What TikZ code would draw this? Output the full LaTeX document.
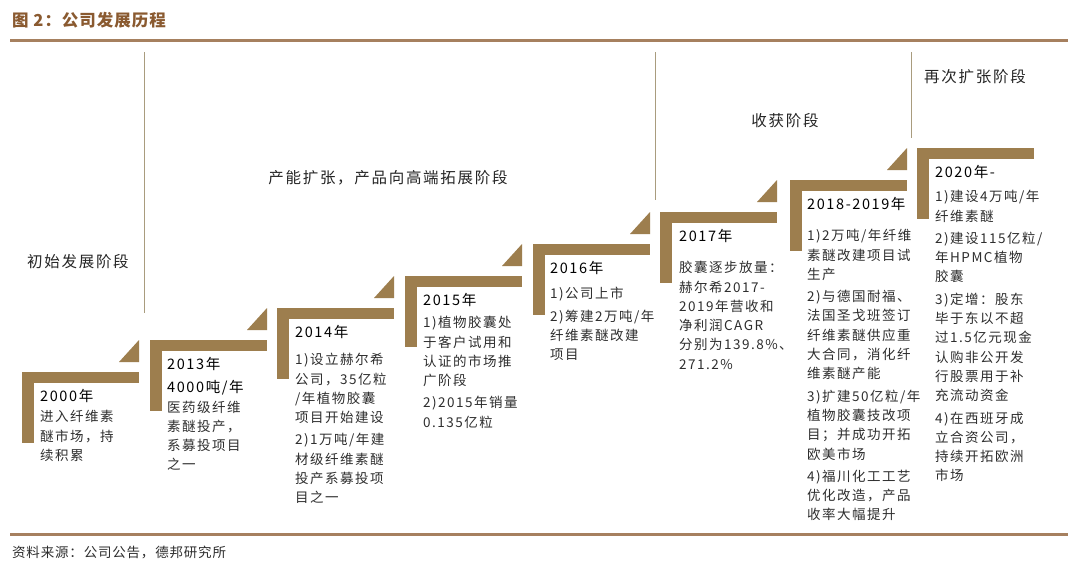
\documentclass[tikz,border=0pt]{standalone}
\usepackage{fontspec}
\newfontfamily\cjk[LetterSpace=11]{Noto Sans CJK SC}
\newfontfamily\cjkt[LetterSpace=6]{Noto Sans CJK SC}
\definecolor{bar}{HTML}{9D7E4E}
\definecolor{rulec}{HTML}{A6805F}
\definecolor{titlec}{HTML}{8A5A30}
\definecolor{sepc}{HTML}{A99C7E}
\definecolor{bodyc}{HTML}{2E2E2E}
\tikzset{
  barfill/.style={fill=bar, draw=none},
  stepbody/.style={anchor=north west, inner sep=0pt, align=left,
    font=\cjk\fontsize{13.5}{19.3}\selectfont, text=bodyc},
  phase/.style={inner sep=0pt, font=\cjk\fontsize{15.5}{18}\selectfont, text=black!85},
  seprule/.style={draw=sepc, line width=1pt},
  hrule/.style={draw=rulec, line width=3pt},
}
\newcommand\yr[1]{{\fontsize{14.5}{19.3}\selectfont\color{black}#1}}
\newcommand\stepbracket[3]{%
  \fill[barfill] (#1,#2) rectangle ++(117,11);
  \fill[barfill] (#1,#2) rectangle ++(12,71);
  \ifnum#3=1 \fill[barfill] (#1+97,#2-10) -- ++(20,0) -- ++(0,-22) -- cycle;\fi
}
\begin{document}
\begin{tikzpicture}[x=1pt,y=-1pt]
\useasboundingbox (0,0) rectangle (1080,576);
\fill[white] (0,0) rectangle (1080,576);
% title and rules
\node[anchor=west, inner sep=0pt, font=\cjkt\bfseries\fontsize{16.5}{18}\selectfont, text=titlec] (title) at (12,20) {图 2：公司发展历程};
\draw[hrule] (10,40) -- (1068,40);
\draw[hrule] (10,534) -- (1068,534);
\node[anchor=west, inner sep=0pt, font=\cjkt\fontsize{13.5}{16}\selectfont, text=bodyc] (source) at (12,552) {资料来源：公司公告，德邦研究所};
% phase separators
\draw[seprule] (144,52) -- (144,313);
\draw[seprule] (655,52) -- (655,200);
\draw[seprule] (911,52) -- (911,138);
% phase labels
\node[phase] (p1) at (78,262) {初始发展阶段};
\node[phase] (p2) at (388,178) {产能扩张，产品向高端拓展阶段};
\node[phase] (p3) at (785,121) {收获阶段};
\node[phase] (p4) at (975,77) {再次扩张阶段};
% brackets
\stepbracket{22}{372}{1}
\stepbracket{150}{340}{1}
\stepbracket{277}{308}{1}
\stepbracket{405}{276}{1}
\stepbracket{533}{244}{1}
\stepbracket{660}{212}{1}
\stepbracket{790}{180}{1}
\stepbracket{917}{148}{0}
% texts
\node[stepbody] (s1) at (22+18,372+17) {\yr{2000年}\\[1pt]进入纤维素\\醚市场，持\\续积累};
\node[stepbody] (s2) at (150+17,340+17) {\yr{2013年}\\[4pt]\yr{4000吨/年}\\医药级纤维\\素醚投产，\\系募投项目\\之一};
\node[stepbody] (s3) at (277+18,308+17) {\yr{2014年}\\[8pt]1)设立赫尔希\\公司，35亿粒\\/年植物胶囊\\项目开始建设\\[3pt]2)1万吨/年建\\材级纤维素醚\\投产系募投项\\目之一};
\node[stepbody] (s4) at (405+18,276+17) {\yr{2015年}\\[3pt]1)植物胶囊处\\于客户试用和\\认证的市场推\\广阶段\\[3pt]2)2015年销量\\0.135亿粒};
\node[stepbody] (s5) at (533+17,244+17) {\yr{2016年}\\[6pt]1)公司上市\\[3pt]2)筹建2万吨/年\\纤维素醚改建\\项目};
\node[stepbody] (s6) at (660+19,212+17) {\yr{2017年}\\[12pt]胶囊逐步放量：\\赫尔希2017-\\2019年营收和\\净利润CAGR\\分别为139.8\%、\\271.2\%};
\node[stepbody] (s7) at (790+17,180+17) {\yr{2018-2019年}\\[12pt]1)2万吨/年纤维\\素醚改建项目试\\生产\\[3pt]2)与德国耐福、\\法国圣戈班签订\\纤维素醚供应重\\大合同，消化纤\\维素醚产能\\[3pt]3)扩建50亿粒/年\\植物胶囊技改项\\目；并成功开拓\\欧美市场\\[3pt]4)福川化工工艺\\优化改造，产品\\收率大幅提升};
\node[stepbody] (s8) at (917+18,148+17) {\yr{2020年-}\\[5pt]1)建设4万吨/年\\纤维素醚\\[3pt]2)建设115亿粒/\\年HPMC植物\\胶囊\\[3pt]3)定增：股东\\毕于东以不超\\过1.5亿元现金\\认购非公开发\\行股票用于补\\充流动资金\\[3pt]4)在西班牙成\\立合资公司，\\持续开拓欧洲\\市场};
\end{tikzpicture}
\end{document}
